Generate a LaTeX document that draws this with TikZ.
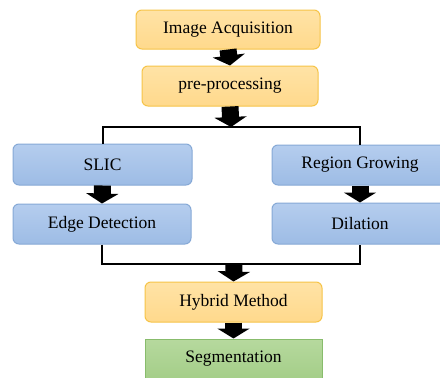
\documentclass[tikz,border=0pt]{standalone}
\usepackage{fontspec}
\setmainfont{Liberation Serif}
\usetikzlibrary{arrows.meta}
\definecolor{orfill}{HTML}{FFD98C}
\definecolor{ortop}{HTML}{FFE3A6}
\definecolor{orline}{HTML}{F6C448}
\definecolor{blfill}{HTML}{9DBCE5}
\definecolor{bltop}{HTML}{B5CDEE}
\definecolor{blline}{HTML}{86A9D6}
\definecolor{grfill}{HTML}{A4CE88}
\definecolor{grtop}{HTML}{B6D99E}
\definecolor{grline}{HTML}{88BC6C}
\tikzset{
  boxbase/.style={rectangle, rounded corners=6pt, line width=1pt, inner sep=0pt,
    font=\fontsize{17.5}{19}\selectfont, text=black},
  orbox/.style={boxbase, draw=orline, top color=ortop, bottom color=orfill},
  blbox/.style={boxbase, draw=blline, top color=bltop, bottom color=blfill},
  grbox/.style={boxbase, rounded corners=0pt, draw=grline, top color=grtop, bottom color=grfill},
  conn/.style={draw=black, line width=2pt},
  fat/.style={draw=black, line width=17pt, -{Triangle[length=10pt,width=32pt]}}
}
\begin{document}
\begin{tikzpicture}[x=1pt,y=-1pt]
\useasboundingbox (0,0) rectangle (440,378);
\clip (0,0) rectangle (440,378);
\fill[white] (0,0) rectangle (440,378);
\node[orbox, minimum width=184pt, minimum height=39pt] (ia) at (228,29.5) {Image Acquisition};
\node[orbox, minimum width=176pt, minimum height=40pt] (pp) at (230,86) {pre-processing};
\node[blbox, minimum width=179pt, minimum height=41pt] (slic) at (102.5,164.5) {SLIC};
\node[blbox, minimum width=178pt, minimum height=40pt] (ed) at (102,224) {Edge Detection};
\node[blbox, minimum width=176pt, minimum height=40pt] (rg) at (360,165) {Region Growing};
\node[blbox, minimum width=176pt, minimum height=41pt] (dil) at (360,223.5) {Dilation};
\node[orbox, minimum width=177pt, minimum height=40pt] (hm) at (233.5,302) {Hybrid Method};
\node[grbox, minimum width=177pt, minimum height=40pt] (seg) at (233.5,359) {Segmentation};
\coordinate (top) at (231,127);
\coordinate (bot) at (234,264);
\draw[conn] (slic.north) |- (top) -| (rg.north);
\draw[conn] (ed.south) |- (bot) -| (dil.south);
\draw[fat] (ia.south) -- (pp.north);
\draw[fat] (pp.south) -- (top);
\draw[fat] (slic.south) -- (ed.north);
\draw[fat] (rg.south) -- (dil.north);
\draw[fat] (bot) -- (hm.north);
\draw[fat] (hm.south) -- (seg.north);
\end{tikzpicture}
\end{document}
